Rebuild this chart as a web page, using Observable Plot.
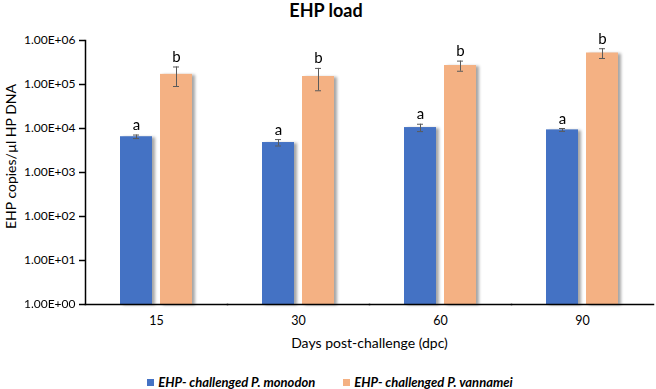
<!DOCTYPE html>
<html>
<head>
<meta charset="utf-8">
<script src="https://cdn.jsdelivr.net/npm/d3@7"></script>
<script src="https://cdn.jsdelivr.net/npm/@observablehq/plot@0.6"></script>
<style>
  html, body { margin: 0; padding: 0; background: #fff; }
  #wrap { position: relative; width: 656px; height: 389px; font-family: Lato, "Open Sans", sans-serif; }
  #title { position: absolute; top: 0; left: 0; width: 652px; text-align: center; font-weight: bold; font-size: 18px; line-height: 20px; color: #000; }
  #legend { position: absolute; top: 374px; left: 0; width: 660px; display: flex; justify-content: center; gap: 28px; font-size: 13px; font-weight: bold; font-style: italic; color: #000; }
  #legend span.sw { display: inline-block; width: 7px; height: 7px; margin-right: 4px; vertical-align: 1px; }
  #chart { position: absolute; top: 0; left: 0; }
</style>
</head>
<body>
<div id="wrap">
  <div id="chart"></div>
  <div id="title">EHP load</div>
  <div id="legend"></div>
</div>
<script>
const days = ["15", "30", "60", "90"];
const seriesNames = ["EHP- challenged P. monodon", "EHP- challenged P. vannamei"];
const seriesColors = ["#4472C4", "#F4B183"];
const monodonMean = [6500, 4800, 10500, 9300];
const monodonSD = [600, 800, 2000, 700];
const vannameiMean = [170000, 152000, 270000, 520000];
const vannameiSD = [80000, 80000, 70000, 130000];
const monodonLetters = ["a", "a", "a", "a"];
const vannameiLetters = ["b", "b", "b", "b"];
const yTicks = [1, 10, 100, 1000, 10000, 100000, 1000000];

const data = [];
days.forEach((d, i) => {
  data.push({day: d, series: seriesNames[0], mean: monodonMean[i], sd: monodonSD[i], letter: monodonLetters[i]});
  data.push({day: d, series: seriesNames[1], mean: vannameiMean[i], sd: vannameiSD[i], letter: vannameiLetters[i]});
});

const fmt = v => "1.00E+" + String(Math.round(Math.log10(v))).padStart(2, "0");

const chart = Plot.plot({
  width: 656,
  height: 389,
  marginTop: 40,
  marginBottom: 85,
  marginLeft: 83,
  marginRight: 2,
  style: {fontFamily: "Lato, 'Open Sans', sans-serif", fontSize: "12px", color: "#000", background: "#fff"},
  fx: {domain: days, padding: 0},
  x: {domain: seriesNames, axis: null, paddingInner: 0.2, paddingOuter: 0.84},
  y: {type: "log", domain: [1, 1000000], axis: null},
  color: {domain: seriesNames, range: seriesColors},
  marks: [
    Plot.barY(data, {fx: "day", x: "series", y1: 1, y2: "mean", fill: "series"}),
    Plot.ruleX(data, {fx: "day", x: "series", y1: d => d.mean - d.sd, y2: d => d.mean + d.sd, stroke: "#5a5a5a", strokeWidth: 1}),
    Plot.tickY(data, {fx: "day", x: "series", y: d => d.mean + d.sd, stroke: "#5a5a5a", strokeWidth: 1, insetLeft: 13, insetRight: 13}),
    Plot.tickY(data, {fx: "day", x: "series", y: d => d.mean - d.sd, stroke: "#5a5a5a", strokeWidth: 1, insetLeft: 13, insetRight: 13}),
    Plot.text(data, {fx: "day", x: "series", y: d => d.mean + d.sd, text: "letter", lineAnchor: "bottom", dy: -5, fontSize: 15, fill: "#000"}),
    Plot.frame({anchor: "bottom", stroke: "#000", strokeWidth: 1.5}),
    Plot.frame({anchor: "left", stroke: "#000", strokeWidth: 1.5, facetAnchor: "left"}),
    Plot.axisY({ticks: yTicks, tickFormat: fmt, tickSize: 6, tickPadding: 4, stroke: "#000", strokeWidth: 1.5,
      label: "EHP copies/µl HP DNA", labelAnchor: "center", labelArrow: "none", labelOffset: 79, fontSize: 12}),
    Plot.axisFx({anchor: "bottom", tickSize: 0, tickPadding: 12, label: "Days post-challenge (dpc)", labelAnchor: "center", labelArrow: "none", labelOffset: 43, fontSize: 12.5})
  ]
});

document.getElementById("chart").appendChild(chart);
d3.select(chart).selectAll('g[aria-label="bar"]').style("filter", "drop-shadow(3px 1px 1.5px rgba(0,0,0,0.35))");
d3.select(chart).selectAll('g[aria-label="fx-axis label"] text').style("font-size", "14px");
d3.select(chart).selectAll('g[aria-label="y-axis label"] text').style("font-size", "14px").attr("dx", 16);

const legend = d3.select("#legend");
seriesNames.forEach((n, i) => {
  const item = legend.append("div");
  item.append("span").attr("class", "sw").style("background", seriesColors[i]);
  item.append("span").text(n);
});
</script>
</body>
</html>
